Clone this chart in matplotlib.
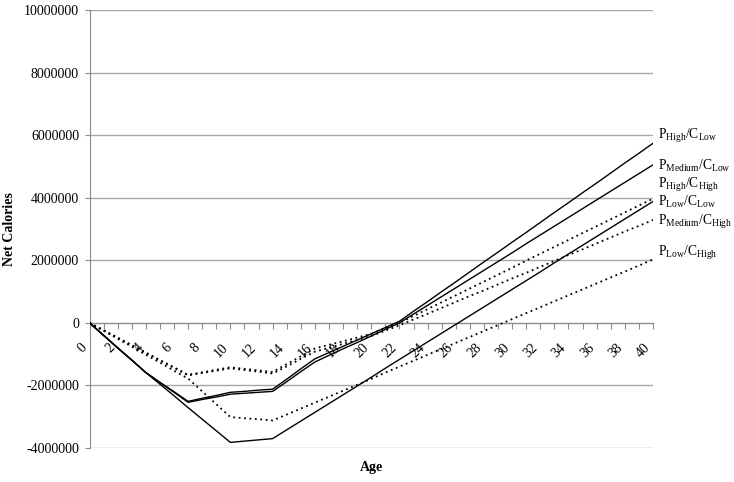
import matplotlib
matplotlib.use("Agg")
import matplotlib.pyplot as plt
import numpy as np

plt.rcParams['font.family'] = ['Liberation Serif', 'DejaVu Serif']
plt.rcParams['mathtext.fontset'] = 'custom'
plt.rcParams['mathtext.rm'] = 'Liberation Serif'
plt.rcParams['mathtext.it'] = 'Liberation Serif:italic'
plt.rcParams['mathtext.bf'] = 'Liberation Serif:bold'

ages = list(range(0, 41))

# Net calories in millions
p_high_c_low = [0, -0.40, -0.80, -1.19, -1.59, -1.90, -2.20, -2.51, -2.41, -2.32,
                -2.22, -2.19, -2.15, -2.12, -1.80, -1.47, -1.15, -0.95, -0.75, -0.55,
                -0.35, -0.15, 0.05, 0.37, 0.68, 1.00, 1.31, 1.63, 1.95, 2.26,
                2.58, 2.89, 3.21, 3.53, 3.84, 4.16, 4.47, 4.79, 5.11, 5.42, 5.74]
p_medium_c_low = [0, -0.40, -0.80, -1.19, -1.59, -1.91, -2.22, -2.54, -2.45, -2.37,
                  -2.28, -2.25, -2.22, -2.19, -1.88, -1.56, -1.25, -1.04, -0.83, -0.63,
                  -0.42, -0.21, 0.00, 0.28, 0.56, 0.84, 1.12, 1.40, 1.68, 1.96,
                  2.24, 2.53, 2.81, 3.09, 3.37, 3.65, 3.93, 4.21, 4.49, 4.77, 5.05]
p_high_c_high = [0, -0.24, -0.47, -0.71, -0.95, -1.19, -1.42, -1.66, -1.58, -1.50,
                 -1.42, -1.47, -1.52, -1.57, -1.32, -1.07, -0.82, -0.70, -0.59, -0.47,
                 -0.35, -0.17, 0.00, 0.22, 0.44, 0.66, 0.88, 1.10, 1.32, 1.54,
                 1.76, 1.99, 2.21, 2.43, 2.65, 2.87, 3.09, 3.31, 3.53, 3.75, 3.97]
p_low_c_low = [0, -0.40, -0.80, -1.19, -1.59, -1.96, -2.33, -2.71, -3.08, -3.45,
               -3.82, -3.78, -3.74, -3.70, -3.42, -3.14, -2.86, -2.58, -2.30, -2.02,
               -1.74, -1.45, -1.17, -0.89, -0.61, -0.33, -0.05, 0.23, 0.51, 0.79,
               1.07, 1.35, 1.63, 1.92, 2.20, 2.48, 2.76, 3.04, 3.32, 3.60, 3.88]
p_medium_c_high = [0, -0.24, -0.48, -0.72, -0.96, -1.20, -1.44, -1.68, -1.60, -1.53,
                   -1.45, -1.51, -1.56, -1.62, -1.39, -1.15, -0.92, -0.80, -0.67, -0.55,
                   -0.42, -0.25, -0.08, 0.11, 0.29, 0.48, 0.67, 0.86, 1.04, 1.23,
                   1.42, 1.60, 1.79, 1.98, 2.17, 2.35, 2.54, 2.73, 2.92, 3.10, 3.29]
p_low_c_high = [0, -0.25, -0.51, -0.76, -1.02, -1.27, -1.53, -1.78, -2.19, -2.60,
                -3.01, -3.05, -3.08, -3.12, -2.93, -2.74, -2.55, -2.36, -2.17, -1.98,
                -1.79, -1.59, -1.40, -1.21, -1.02, -0.83, -0.64, -0.45, -0.26, -0.07,
                0.12, 0.31, 0.50, 0.69, 0.88, 1.07, 1.26, 1.45, 1.64, 1.83, 2.03]

series = [
    (p_high_c_low, '-', r'P$_{\mathrm{High}}$/C$_{\mathrm{Low}}$', 5.97),
    (p_medium_c_low, '-', r'P$_{\mathrm{Medium}}$/C$_{\mathrm{Low}}$', 5.03),
    (p_high_c_high, ':', r'P$_{\mathrm{High}}$/C$_{\mathrm{High}}$', 4.42),
    (p_low_c_low, '-', r'P$_{\mathrm{Low}}$/C$_{\mathrm{Low}}$', 3.88),
    (p_medium_c_high, ':', r'P$_{\mathrm{Medium}}$/C$_{\mathrm{High}}$', 3.22),
    (p_low_c_high, ':', r'P$_{\mathrm{Low}}$/C$_{\mathrm{High}}$', 2.23),
]

y_ticks = [-4000000, -2000000, 0, 2000000, 4000000, 6000000, 8000000, 10000000]

fig = plt.figure(figsize=(7.34, 4.82), dpi=100)
ax = fig.add_axes([89.5 / 734, 1 - 448 / 482, (653 - 89.5) / 734, (448 - 10) / 482])

for s in ['top', 'right']:
    ax.spines[s].set_visible(False)
ax.spines['bottom'].set_position(('data', 0))
ax.spines['bottom'].set_color('#8c8c8c')
ax.spines['left'].set_color('#8c8c8c')
ax.spines['bottom'].set_zorder(2)

for yt in y_ticks:
    ax.axhline(yt, color='#a6a6a6', lw=1.0, zorder=1)

for vals, ls, label, ypos in series:
    v = np.array(vals) * 1e6
    if ls == '-':
        ax.plot(ages, v, color='black', lw=1.0, zorder=3, solid_joinstyle='miter')
    else:
        ax.plot(ages, v, color='black', lw=1.3, linestyle=(0, (1, 2)), zorder=3)
    ax.text(40.35, ypos * 1e6, label, fontsize=9.8, va='center', ha='left', clip_on=False)

ax.set_xlim(0, 40)
ax.set_ylim(-4000000, 10000000)
ax.set_yticks(y_ticks)
ax.set_yticklabels([str(t) for t in y_ticks], fontsize=10)

ax.set_xticks(ages)
ax.set_xticklabels([str(a) if a % 2 == 0 else '' for a in ages], fontsize=10,
                   rotation=45, ha='right', va='top')

ax.tick_params(axis='x', direction='out', length=4, color='#8c8c8c', pad=9)
ax.tick_params(axis='y', direction='out', length=3.5, color='#8c8c8c', pad=4)

ax.set_ylabel('Net Calories', fontsize=10, fontweight='bold')
ax.yaxis.set_label_coords(-0.131, 0.5)
fig.text(371 / 734, 1 - 468 / 482, 'Age', fontsize=10, fontweight='bold', ha='center', va='center')

fig.savefig('out.png', dpi=100)
